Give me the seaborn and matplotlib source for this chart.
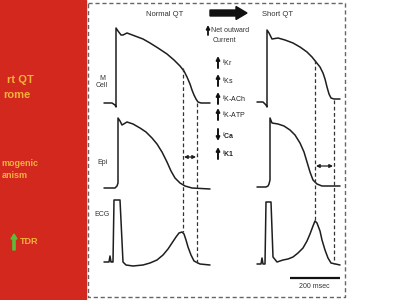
import matplotlib
matplotlib.use("Agg")
import matplotlib.pyplot as plt
import seaborn as sns
import pandas as pd
from matplotlib.patches import Rectangle, FancyArrow

sns.set_theme(style="white")
plt.rcParams['font.family'] = ['Liberation Sans', 'DejaVu Sans']

# ---- traces (diagram coordinates) ----
m_normal_x = [104, 112, 115, 116, 116, 118, 121, 123, 127, 135, 143, 150, 158, 167, 174, 180, 184, 187, 190, 192, 194, 196, 198, 201, 210]
m_normal_y = [103, 103, 105, 107, 28, 31, 35, 35, 33, 36, 39, 43, 48, 54, 60, 66, 71, 77, 84, 90, 95, 99, 102, 103, 103]
m_short_x = [257, 263, 266, 267, 267, 269, 272, 278, 285, 293, 300, 307, 312, 316, 320, 323, 325, 327, 329, 331, 334, 340]
m_short_y = [102, 102, 105, 107, 30, 33, 39, 38, 40, 43, 47, 52, 57, 62, 67, 73, 79, 87, 94, 98, 99, 99]

epi_normal_x = [104, 115, 117, 118, 118, 120, 122, 127, 133, 140, 146, 152, 157, 162, 167, 171, 175, 180, 185, 192, 210]
epi_normal_y = [188, 188, 186, 183, 118, 121, 125, 122, 124, 128, 132, 138, 144, 152, 162, 171, 178, 183, 186, 188, 189]
epi_short_x = [257, 266, 268, 269, 270, 270, 272, 278, 284, 290, 295, 300, 304, 307, 310, 313, 317, 322, 340]
epi_short_y = [187, 187, 186, 184, 180, 118, 123, 124, 126, 130, 135, 143, 152, 162, 172, 180, 184, 186, 186]

ecg_normal_x = [104, 109, 110, 111, 112, 113, 114, 120, 123, 126, 133, 143, 150, 157, 163, 168, 172, 176, 179, 182, 184, 186, 188, 191, 194, 200, 210]
ecg_normal_y = [262, 262, 256, 262, 262, 262, 200, 200, 262, 265, 266, 265, 263, 260, 255, 249, 243, 237, 233, 232, 234, 240, 247, 255, 261, 264, 265]
ecg_short_x = [257, 261, 262, 263, 265, 266, 271, 273, 277, 283, 288, 293, 298, 303, 307, 310, 313, 315, 317, 320, 322, 325, 328, 331, 340]
ecg_short_y = [264, 264, 258, 264, 264, 202, 202, 257, 262, 260, 259, 257, 253, 248, 241, 234, 226, 221, 223, 231, 240, 250, 258, 263, 265]

# dashed reference lines: (x, y_top, y_bottom)
dash_x = [183, 197, 315, 334]
dash_top = [68, 103, 60, 100]
dash_bottom = [232, 264, 221, 264]

current_labels = ["$^{I}$Kr", "$^{I}$Ks", "$^{I}$K-ACh", "$^{I}$K-ATP", "$^{I}$Ca", "$^{I}$K1"]
current_dir = [1, 1, 1, 1, -1, 1]
current_y = [62, 80, 98, 114, 135, 153]
current_bold = [False, False, False, False, True, True]

fig = plt.figure(figsize=(4, 3), dpi=100)
ax = fig.add_axes([0, 0, 1, 1])
ax.set_xlim(0, 400)
ax.set_ylim(300, 0)
ax.axis("off")

# red slide panel
ax.add_patch(Rectangle((0, 0), 86, 300, color="#D2281D", zorder=0))
txt = "#F2B33A"
ax.text(7, 80, "rt QT", color=txt, fontsize=8, fontweight="bold", va="center", ha="left")
ax.text(3, 95, "rome", color=txt, fontsize=8, fontweight="bold", va="center", ha="left")
ax.text(1, 164, "mogenic", color=txt, fontsize=6.5, fontweight="bold", va="center", ha="left")
ax.text(2, 176, "anism", color=txt, fontsize=6.5, fontweight="bold", va="center", ha="left")
ax.add_patch(FancyArrow(14, 250, 0, -16, width=2.2, head_width=6, head_length=5,
                        length_includes_head=True, color="#5DBB3A", zorder=3))
ax.text(20, 242, "TDR", color=txt, fontsize=6.5, fontweight="bold", va="center", ha="left")

# dashed frame
ax.plot([88, 345, 345, 88, 88], [3, 3, 297, 297, 3], color="#666666", lw=1.0,
        linestyle=(0, (3, 2)))

line_kw = dict(color="#1e1e1e", linewidth=1.1, sort=False, estimator=None, legend=False, ax=ax)
for xs, ys in [(m_normal_x, m_normal_y), (m_short_x, m_short_y),
               (epi_normal_x, epi_normal_y), (epi_short_x, epi_short_y),
               (ecg_normal_x, ecg_normal_y), (ecg_short_x, ecg_short_y)]:
    df = pd.DataFrame({"x": xs, "y": ys})
    sns.lineplot(data=df, x="x", y="y", **line_kw)

for x, t, b in zip(dash_x, dash_top, dash_bottom):
    ax.plot([x, x], [t, b], color="#333333", lw=0.9, linestyle=(0, (3, 2)))

# double arrows
for x0, x1, y in [(184, 196, 157), (316, 333, 166)]:
    ax.annotate("", xy=(x1, y), xytext=(x0, y),
                arrowprops=dict(arrowstyle="<|-|>", color="#1e1e1e", lw=0.9,
                                mutation_scale=5, shrinkA=0, shrinkB=0))

# titles
ax.text(165, 15, "Normal QT", fontsize=5.5, color="#333333", ha="center", va="center")
ax.text(277, 15, "Short QT", fontsize=5.5, color="#333333", ha="center", va="center")
ax.add_patch(FancyArrow(210, 13, 37, 0, width=6, head_width=13, head_length=11,
                        length_includes_head=True, color="#111111"))

# row labels
ax.text(102, 82, "M\nCell", fontsize=5, color="#333333", ha="center", va="center", linespacing=1.0)
ax.text(103, 162, "Epi", fontsize=5, color="#333333", ha="center", va="center")
ax.text(102, 215, "ECG", fontsize=5, color="#333333", ha="center", va="center")

# net outward current
ax.annotate("", xy=(208, 25), xytext=(208, 35),
            arrowprops=dict(arrowstyle="-|>", color="#111111", lw=1.3, mutation_scale=5,
                            shrinkA=0, shrinkB=0))
ax.text(211, 30, "Net outward", fontsize=5, color="#333333", ha="left", va="center")
ax.text(213, 40, "Current", fontsize=5, color="#333333", ha="left", va="center")

for lab, d, y, b in zip(current_labels, current_dir, current_y, current_bold):
    y0, y1 = (y + 6, y - 6) if d > 0 else (y - 6, y + 6)
    ax.annotate("", xy=(218, y1), xytext=(218, y0),
                arrowprops=dict(arrowstyle="-|>", color="#111111", lw=1.4, mutation_scale=5,
                                shrinkA=0, shrinkB=0))
    ax.text(222, y + 1, lab, fontsize=5, color="#222222", ha="left", va="center",
            fontweight="bold" if b else "normal")

# scale bar
ax.plot([290, 340], [278, 278], color="#111111", lw=1.6, solid_capstyle="butt")
ax.text(314, 287, "200 msec", fontsize=5, color="#333333", ha="center", va="center")

fig.savefig("out.png", dpi=100)
